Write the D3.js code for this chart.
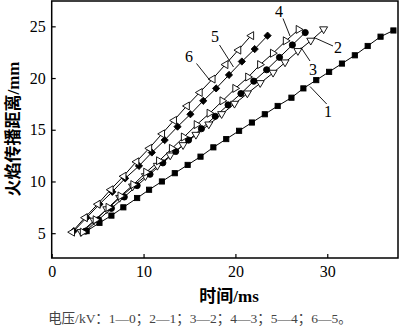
<!DOCTYPE html>
<html><head><meta charset="utf-8">
<script src="https://cdn.jsdelivr.net/npm/d3@7"></script>
<style>body{margin:0;background:#fff}svg{display:block}</style>
</head><body>
<script>
const xTicks = [0, 10, 20, 30];
const yTicks = [5, 10, 15, 20, 25];
const xTitle = "时间/ms";
const yTitle = "火焰传播距离/mm";
const caption = "电压/kV：1—0；2—1；3—2；4—3；5—4；6—5。";

const s1t = [3.8,5.2,6.5,7.8,9.3,10.6,12.0,13.4,14.8,16.2,17.6,19.0,20.4,21.8,23.2,24.6,26.1,27.4,28.8,30.2,31.6,33.0,34.4,35.8,37.2];
const s1y = [5.2,6.0,6.7,7.5,8.4,9.2,10.0,10.8,11.6,12.4,13.3,14.1,14.9,15.7,16.5,17.3,18.1,19.0,19.8,20.6,21.4,22.2,23.1,24.0,24.6];
const s2t = [3.2,4.6,6.0,7.4,8.8,10.2,11.5,12.9,14.3,15.7,17.1,18.5,19.9,21.3,22.7,24.1,25.4,26.8,28.2,29.6];
const s2y = [5.1,6.2,7.3,8.4,9.5,10.5,11.5,12.5,13.5,14.5,15.5,16.5,17.5,18.5,19.5,20.5,21.5,22.6,23.6,24.7];
const s3t = [3.7,5.1,6.5,7.9,9.3,10.7,12.1,13.5,14.9,16.3,17.8,19.2,20.6,22.0,23.4,24.8,26.2,27.6];
const s3y = [5.2,6.3,7.4,8.5,9.6,10.7,11.8,12.9,14.0,15.1,16.3,17.4,18.5,19.7,20.8,22.0,23.2,24.4];
const s4t = [3.4,4.8,6.2,7.5,8.9,10.3,11.7,13.1,14.4,15.8,17.2,18.6,20.0,21.4,22.7,24.1,25.5,26.9];
const s4y = [5.1,6.3,7.5,8.6,9.7,10.9,12.0,13.2,14.3,15.5,16.6,17.8,19.0,20.1,21.3,22.4,23.6,24.7];
const s5t = [2.4,3.8,5.2,6.6,8.0,9.5,10.9,12.3,13.7,15.1,16.5,17.9,19.3,20.7,22.1,23.5];
const s5y = [5.2,6.5,7.8,9.0,10.3,11.5,12.8,14.0,15.3,16.5,17.8,19.0,20.3,21.6,22.8,24.1];
const s6t = [2.2,3.6,5.0,6.4,7.8,9.2,10.6,12.0,13.3,14.7,16.1,17.5,18.9,20.3,21.7];
const s6y = [5.1,6.5,7.8,9.2,10.5,11.9,13.2,14.6,15.9,17.3,18.6,19.9,21.3,22.7,24.1];
const seriesNames = ["1","2","3","4","5","6"];

const W = 400, H = 332;
const svg = d3.select("body").append("svg").attr("width", W).attr("height", H);
const x = d3.scaleLinear().domain([0, 37.7]).range([51.7, 398]);
const y = d3.scaleLinear().domain([2.6, 27.45]).range([258, 1]);
const serif = "'Liberation Serif','Times New Roman','Noto Sans CJK SC',serif";

// series
const series = [
  {t: s1t, v: s1y, m: "square"},
  {t: s2t, v: s2y, m: "tridown"},
  {t: s3t, v: s3y, m: "circle"},
  {t: s4t, v: s4y, m: "triright"},
  {t: s5t, v: s5y, m: "diamond"},
  {t: s6t, v: s6y, m: "trileft"}
];
const line = d3.line().x(d => x(d[0])).y(d => y(d[1]));
const g = svg.append("g");
series.forEach(s => {
  const pts = s.t.map((t, i) => [t, s.v[i]]);
  g.append("path").attr("d", line(pts)).attr("fill", "none").attr("stroke", "#000").attr("stroke-width", 1);
});
function marker(sel, m) {
  const filled = (m === "square" || m === "circle" || m === "diamond");
  const fill = filled ? "#000" : "#fff";
  let p;
  if (m === "square") p = sel.append("rect").attr("x", -2.6).attr("y", -2.6).attr("width", 5.2).attr("height", 5.2);
  else if (m === "circle") p = sel.append("circle").attr("r", 3.1);
  else if (m === "diamond") p = sel.append("path").attr("d", "M0,-3.6L3.6,0L0,3.6L-3.6,0Z");
  else if (m === "tridown") p = sel.append("path").attr("d", "M-4,-2.6L4,-2.6L0,4.2Z");
  else if (m === "triright") p = sel.append("path").attr("d", "M-2.6,-4L4.2,0L-2.6,4Z");
  else p = sel.append("path").attr("d", "M2.6,-4L-4.2,0L2.6,4Z");
  p.attr("fill", fill).attr("stroke", "#000").attr("stroke-width", 0.9);
}
series.forEach(s => {
  s.t.forEach((t, i) => {
    const mg = g.append("g").attr("transform", `translate(${x(t)},${y(s.v[i])})`);
    marker(mg, s.m);
  });
});

// frame
svg.append("rect").attr("x", 51.7).attr("y", 1).attr("width", 398 - 51.7).attr("height", 257)
  .attr("fill", "none").attr("stroke", "#000").attr("stroke-width", 1.5);

// axes
const xa = svg.append("g").attr("transform", "translate(0,258)")
  .call(d3.axisBottom(x).tickValues(xTicks).tickSize(-4).tickPadding(8).tickFormat(d3.format("d")));
const ya = svg.append("g").attr("transform", "translate(51.7,0)")
  .call(d3.axisLeft(y).tickValues(yTicks).tickSize(-4).tickPadding(6).tickFormat(d3.format("d")));
[xa, ya].forEach(a => {
  a.select(".domain").remove();
  a.selectAll(".tick line").attr("stroke", "#000").attr("stroke-width", 1.2);
  a.selectAll("text").attr("font-family", serif).attr("font-size", 16).attr("fill", "#000");
});

// titles
svg.append("text").attr("x", 229).attr("y", 302).attr("text-anchor", "middle")
  .attr("font-family", serif).attr("font-size", 17).attr("font-weight", "bold").text(xTitle);
svg.append("text").attr("transform", "translate(19,129) rotate(-90)").attr("text-anchor", "middle")
  .attr("font-family", serif).attr("font-size", 17).attr("font-weight", "bold").text(yTitle);
svg.append("text").attr("x", 200).attr("y", 323).attr("text-anchor", "middle")
  .attr("font-family", serif).attr("font-size", 13.5).attr("fill", "#444").text(caption);

// series labels with leader lines
const labels = [
  {n: "1", tx: 328, ty: 117, l: [[326.7, 104], [310, 86.5]]},
  {n: "2", tx: 338, ty: 53, l: [[333, 46], [314, 37.5]]},
  {n: "3", tx: 313, ty: 75, l: [[310, 61], [301, 47.5]]},
  {n: "4", tx: 279, ty: 17, l: [[283, 18.5], [290, 36]]},
  {n: "5", tx: 215, ty: 42, l: [[219.5, 45], [233.5, 67]]},
  {n: "6", tx: 189, ty: 62, l: [[196.5, 63.5], [210, 80.5]]}
];
labels.forEach((d, i) => {
  svg.append("line").attr("x1", d.l[0][0]).attr("y1", d.l[0][1]).attr("x2", d.l[1][0]).attr("y2", d.l[1][1])
    .attr("stroke", "#000").attr("stroke-width", 0.9);
  svg.append("text").attr("x", d.tx).attr("y", d.ty).attr("text-anchor", "middle")
    .attr("font-family", serif).attr("font-size", 16).text(seriesNames[i]);
});
</script>
</body></html>
